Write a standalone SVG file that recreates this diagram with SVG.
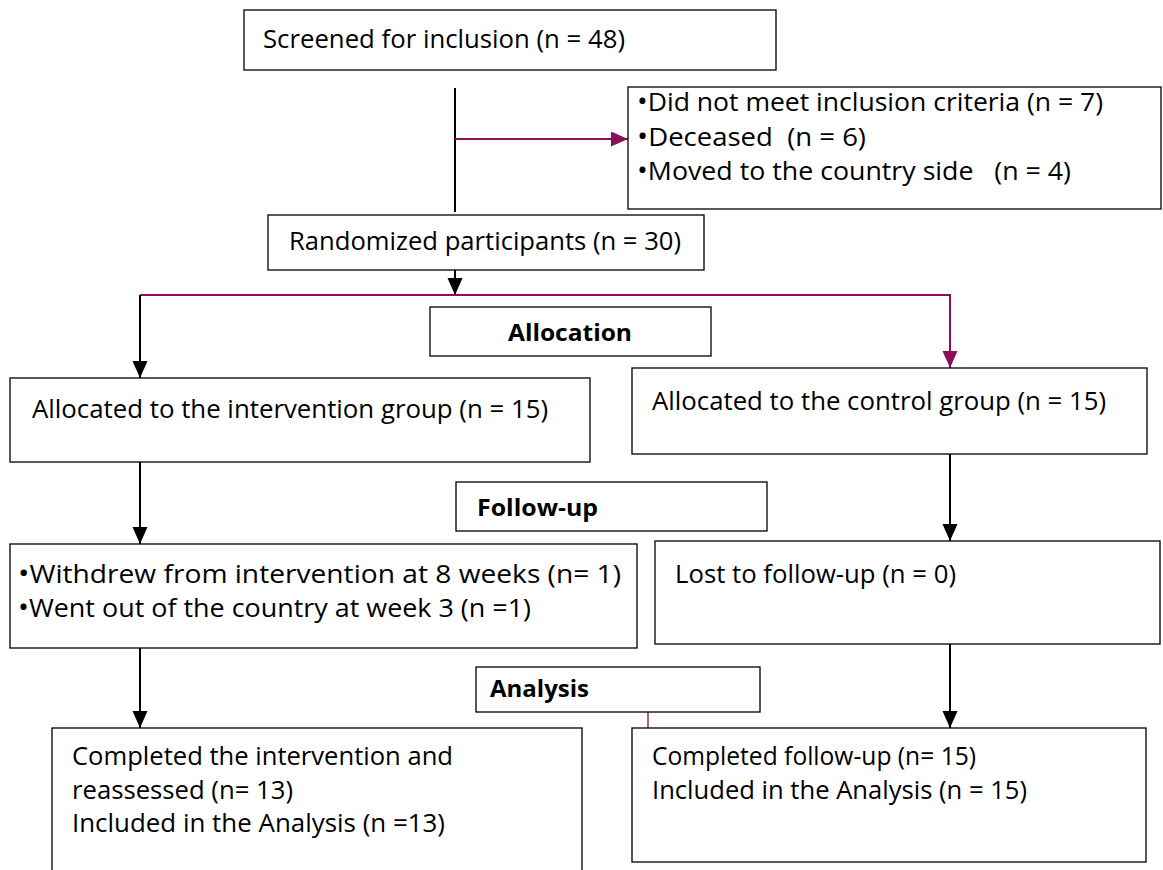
<svg xmlns="http://www.w3.org/2000/svg" width="1163" height="870" viewBox="0 0 1163 870">
<style>
.box{fill:#fff;stroke:#000;stroke-width:1.3}
.t{font-family:"Open Sans","Liberation Sans",sans-serif;font-size:25px;fill:#000}
.b{font-family:"Open Sans","Liberation Sans",sans-serif;font-size:24px;font-weight:bold;fill:#000}
.bu{font-size:27px}
.k{stroke:#000;stroke-width:2;fill:none}
.p{stroke:#8a0f55;stroke-width:2;fill:none}
.p1{stroke:#8a0f55;stroke-width:1.3;fill:none}
</style>
<defs>
<marker id="ak" markerUnits="userSpaceOnUse" markerWidth="18" markerHeight="16" refX="17" refY="7.5" orient="auto"><path d="M0,0 L17,7.5 L0,15 Z" fill="#000"/></marker>
<marker id="ap" markerUnits="userSpaceOnUse" markerWidth="18" markerHeight="16" refX="17" refY="7.5" orient="auto"><path d="M0,0 L17,7.5 L0,15 Z" fill="#8a0f55"/></marker>
</defs>
<rect width="1163" height="870" fill="#fff"/>
<g id="connectors">
<line class="k" x1="455" y1="88" x2="455" y2="212"/>
<line class="p" x1="455" y1="139" x2="628" y2="139" marker-end="url(#ap)"/>
<line class="k" x1="455" y1="270" x2="455" y2="295" marker-end="url(#ak)"/>
<polyline class="p" points="140,295 950,295 950,368" marker-end="url(#ap)"/>
<line class="k" x1="140" y1="295" x2="140" y2="378" marker-end="url(#ak)"/>
<line class="k" x1="140" y1="462" x2="140" y2="544" marker-end="url(#ak)"/>
<line class="k" x1="950" y1="454" x2="950" y2="541" marker-end="url(#ak)"/>
<line class="k" x1="140" y1="648" x2="140" y2="728" marker-end="url(#ak)"/>
<line class="k" x1="950" y1="644" x2="950" y2="728" marker-end="url(#ak)"/>
<line class="p1" x1="648" y1="712" x2="648" y2="728"/>
</g>
<g id="screened"><rect class="box" x="244" y="10" width="532" height="60"/><text class="t" x="263" y="48" textLength="362" lengthAdjust="spacingAndGlyphs">Screened for inclusion (n = 48)</text></g>
<g id="excluded"><rect class="box" x="628" y="87" width="533" height="122"/>
<text class="t" x="637" y="111" textLength="466" lengthAdjust="spacingAndGlyphs"><tspan class="bu">•</tspan>Did not meet inclusion criteria (n = 7)</text>
<text class="t" x="637" y="146" textLength="229" lengthAdjust="spacingAndGlyphs" xml:space="preserve"><tspan class="bu">•</tspan>Deceased  (n = 6)</text>
<text class="t" x="637" y="180" textLength="434" lengthAdjust="spacingAndGlyphs" xml:space="preserve"><tspan class="bu">•</tspan>Moved to the country side   (n = 4)</text></g>
<g id="randomized"><rect class="box" x="268" y="215" width="436" height="55"/><text class="t" x="289" y="250" textLength="392" lengthAdjust="spacingAndGlyphs">Randomized participants (n = 30)</text></g>
<g id="allocation"><rect class="box" x="430" y="307" width="281" height="49"/><text class="b" x="508" y="341" textLength="124" lengthAdjust="spacingAndGlyphs">Allocation</text></g>
<g id="intervention"><rect class="box" x="10" y="378" width="580" height="84"/><text class="t" x="32" y="418" textLength="516" lengthAdjust="spacingAndGlyphs">Allocated to the intervention group (n = 15)</text></g>
<g id="control"><rect class="box" x="632" y="368" width="515" height="86"/><text class="t" x="652" y="410" textLength="454" lengthAdjust="spacingAndGlyphs">Allocated to the control group (n = 15)</text></g>
<g id="followup"><rect class="box" x="456" y="482" width="311" height="49"/><text class="b" x="477" y="516" textLength="121" lengthAdjust="spacingAndGlyphs">Follow-up</text></g>
<g id="withdrew"><rect class="box" x="10" y="544" width="627" height="104"/>
<text class="t" x="18" y="583" textLength="603" lengthAdjust="spacingAndGlyphs"><tspan class="bu">•</tspan>Withdrew from intervention at 8 weeks (n= 1)</text>
<text class="t" x="18" y="617" textLength="513" lengthAdjust="spacingAndGlyphs"><tspan class="bu">•</tspan>Went out of the country at week 3 (n =1)</text></g>
<g id="lost"><rect class="box" x="655" y="541" width="505" height="103"/><text class="t" x="675" y="583" textLength="281" lengthAdjust="spacingAndGlyphs">Lost to follow-up (n = 0)</text></g>
<g id="analysis"><rect class="box" x="476" y="667" width="284" height="45"/><text class="b" x="490" y="697" textLength="99" lengthAdjust="spacingAndGlyphs">Analysis</text></g>
<g id="completed-intervention"><rect class="box" x="52" y="728" width="530" height="150"/>
<text class="t" x="72" y="765" textLength="381" lengthAdjust="spacingAndGlyphs">Completed the intervention and</text>
<text class="t" x="72" y="799" textLength="221" lengthAdjust="spacingAndGlyphs">reassessed (n= 13)</text>
<text class="t" x="72" y="832" textLength="373" lengthAdjust="spacingAndGlyphs">Included in the Analysis (n =13)</text></g>
<g id="completed-control"><rect class="box" x="632" y="728" width="514" height="134"/>
<text class="t" x="652" y="765" textLength="324" lengthAdjust="spacingAndGlyphs">Completed follow-up (n= 15)</text>
<text class="t" x="652" y="799" textLength="375" lengthAdjust="spacingAndGlyphs">Included in the Analysis (n = 15)</text></g>
</svg>
